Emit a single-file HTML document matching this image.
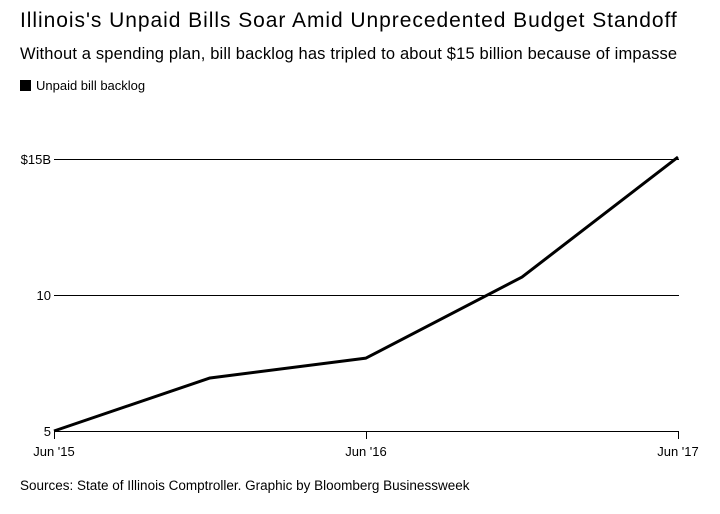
<!DOCTYPE html>
<html><head><meta charset="utf-8"><style>
body{margin:0;background:#fff;font-family:"Liberation Sans",sans-serif;}
#wrap{position:relative;width:720px;height:514px;overflow:hidden;}
.t{position:absolute;white-space:nowrap;color:#000;}
</style></head><body>
<div id="wrap">
<div class="t" style="left:20px;top:9px;font-size:21px;letter-spacing:0.95px;">Illinois's Unpaid Bills Soar Amid Unprecedented Budget Standoff</div>
<div class="t" style="left:20px;top:45px;font-size:16.5px;letter-spacing:0.16px;">Without a spending plan, bill backlog has tripled to about $15 billion because of impasse</div>
<div class="t" style="left:20px;top:78px;font-size:13px;"><span style="display:inline-block;width:11px;height:11px;background:#000;vertical-align:-1px;margin-right:5px;"></span>Unpaid bill backlog</div>
<svg id="svg" width="720" height="514" style="position:absolute;left:0;top:0"></svg>
<div class="t" style="left:20px;top:478px;font-size:13.5px;">Sources: State of Illinois Comptroller. Graphic by Bloomberg Businessweek</div>
</div>
<script>
const periods=[0,1,2,3,4];
const values=[5.0,6.95,7.68,10.66,15.07];
const yTicks=[5,10,15];
const yTickLabels=['5','10','$15B'];
const xTicks=[0,2,4];
const xTickLabels=["Jun '15","Jun '16","Jun '17"];
const NS='http://www.w3.org/2000/svg';
const svg=document.getElementById('svg');
const X0=54,X1=678,Y0=431,Y1=159;
const xs=v=>X0+(v-0)/(4-0)*(X1-X0);
const ys=v=>Y0-(v-5)/(15-5)*(Y0-Y1);
function mk(tag,a){const e=document.createElementNS(NS,tag);for(const k in a)e.setAttribute(k,a[k]);svg.appendChild(e);return e;}
yTicks.forEach((t,i)=>{
  const l=mk('line',{x1:X0,x2:X1+1,y1:ys(t)+0.5,y2:ys(t)+0.5,stroke:'#000','stroke-width':1});
  
  
  const tx=mk('text',{x:X0-3,y:ys(t)+5,'text-anchor':'end','font-size':13,'font-family':'Liberation Sans, sans-serif'});
  tx.textContent=yTickLabels[i];
  
  
});
xTicks.forEach((t,i)=>{
  const l=mk('line',{x1:xs(t)+0.5,x2:xs(t)+0.5,y1:Y0,y2:Y0+8,stroke:'#000','stroke-width':1});
  
  
  const tx=mk('text',{x:xs(t),y:Y0+25,'text-anchor':'middle','font-size':13,'font-family':'Liberation Sans, sans-serif'});
  tx.textContent=xTickLabels[i];
  
  
});
const p=mk('polyline',{points:periods.map((d,i)=>xs(d)+','+ys(values[i])).join(' '),fill:'none',stroke:'#000','stroke-width':3,'stroke-linejoin':'round'});


</script>
</body></html>
